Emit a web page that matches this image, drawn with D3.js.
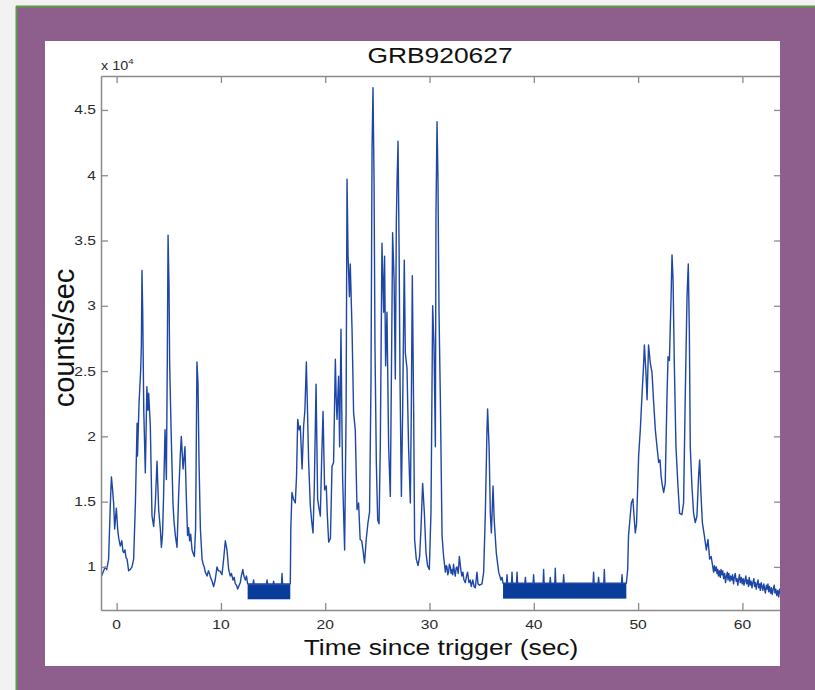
<!DOCTYPE html>
<html>
<head>
<meta charset="utf-8">
<script src="https://cdn.jsdelivr.net/npm/d3@7"></script>
<style>
body { margin: 0; background: #f2f2f2; }
svg { display: block; font-family: "Liberation Sans", Arial, Helvetica, sans-serif; }
</style>
</head>
<body>
<svg id="chart" width="815" height="690"></svg>
<script>
// light curve: [time since trigger (s), counts/sec x 10^4]
var lightCurve = [
    [-1.45,0.93],[-1.3,0.96],[-1.1,1.0],[-0.95,0.98],[-0.77,1.06],[-0.6,1.49],[-0.5,1.69],[-0.4,1.6],
    [-0.29,1.49],[-0.19,1.29],[-0.03,1.45],[0.1,1.29],[0.2,1.22],[0.35,1.16],[0.5,1.2],[0.6,1.12],
    [0.67,1.11],[0.8,1.13],[0.9,1.07],[1.0,1.06],[1.15,0.97],[1.3,0.98],[1.47,1.0],[1.63,1.06],
    [1.8,1.49],[1.96,2.1],[2.0,1.85],[2.15,2.26],[2.3,2.5],[2.37,2.69],[2.43,3.27],[2.5,2.95],
    [2.6,2.2],[2.75,1.72],[2.9,2.38],[3.0,2.2],[3.07,2.33],[3.23,2.08],[3.39,1.39],[3.55,1.31],
    [3.71,1.49],[3.87,1.81],[4.03,1.44],[4.19,1.29],[4.29,1.15],[4.4,1.25],[4.5,1.54],[4.64,2.05],
    [4.77,1.67],[4.85,2.5],[4.93,3.54],[5.02,3.16],[5.08,2.57],[5.22,2.05],[5.4,1.49],[5.5,1.35],
    [5.63,1.24],[5.79,1.15],[5.94,1.54],[6.1,1.85],[6.2,2.0],[6.37,1.75],[6.55,1.92],[6.68,1.54],
    [6.8,1.24],[6.9,1.3],[7.0,1.2],[7.1,1.25],[7.23,1.13],[7.35,1.1],[7.45,1.08],[7.57,1.29],
    [7.7,2.57],[7.8,2.41],[7.9,1.8],[8.03,1.29],[8.19,1.06],[8.3,1.02],[8.4,1.0],[8.5,0.96],
    [8.67,0.93],[8.8,0.97],[8.9,0.95],[9.0,0.92],[9.15,0.89],[9.3,0.85],[9.45,0.9],[9.62,1.0],
    [9.75,0.97],[9.9,0.97],[10.1,0.94],[10.26,1.06],[10.42,1.2],[10.58,1.13],[10.74,0.98],[10.9,0.93],
    [11.0,0.95],[11.16,0.9],[11.27,0.92],[11.38,0.87],[11.5,0.86],[11.6,0.83],[11.75,0.86],[11.86,0.88],
    [11.95,0.93],[12.1,0.98],[12.2,0.93],[12.34,0.9],[12.45,0.93],[12.56,0.87],
    [13.08,0.87],[13.13,0.9],[13.18,0.87],[14.37,0.87],[14.42,0.9],[14.47,0.87],[15.0,0.87],[15.05,0.89],
    [15.1,0.87],[15.81,0.87],[15.86,0.95],[15.91,0.87],[16.65,0.87],
    [16.7,1.29],[16.81,1.57],[16.95,1.52],[17.13,1.49],[17.25,1.7],[17.36,2.13],[17.5,2.05],[17.61,2.08],
    [17.78,1.75],[17.93,2.08],[18.05,2.2],[18.19,2.57],[18.3,2.2],[18.41,1.8],[18.57,1.47],[18.7,1.35],
    [18.83,1.26],[18.95,1.6],[19.12,2.4],[19.27,1.52],[19.4,1.45],[19.53,1.39],[19.65,1.8],[19.79,2.19],
    [19.94,1.59],[20.1,1.62],[20.2,1.4],[20.33,1.19],[20.5,1.22],[20.65,1.77],[20.8,1.8],[20.97,2.59],
    [21.05,2.3],[21.13,2.13],[21.28,2.46],[21.38,1.92],[21.51,2.82],[21.6,2.1],[21.67,1.67],[21.86,1.13],
    [22.0,2.18],[22.09,3.97],[22.19,3.38],[22.32,3.07],[22.4,3.32],[22.57,2.82],[22.72,2.18],[22.88,2.05],
    [23.05,1.44],[23.2,1.49],[23.35,1.21],[23.5,1.2],[23.62,1.13],[23.77,1.03],[23.93,1.21],[24.1,1.34],
    [24.25,1.42],[24.39,2.44],[24.49,4.22],[24.58,4.67],[24.68,3.97],[24.77,2.69],[24.9,1.8],[25.03,1.36],
    [25.16,1.33],[25.28,1.92],[25.44,3.48],[25.6,2.95],[25.69,3.38],[25.79,2.54],[25.92,2.95],[26.08,1.92],
    [26.24,1.54],[26.37,2.69],[26.46,3.56],[26.6,3.2],[26.72,2.44],[26.82,3.66],[26.88,3.92],[26.98,4.26],
    [27.08,3.46],[27.17,2.44],[27.3,1.54],[27.42,2.18],[27.58,3.35],[27.68,2.64],[27.84,2.52],[27.99,1.92],
    [28.16,1.49],[28.25,2.18],[28.35,3.23],[28.48,2.18],[28.57,1.21],[28.73,1.06],[28.9,1.01],[29.05,1.08],
    [29.18,1.29],[29.34,1.64],[29.5,1.42],[29.66,1.11],[29.81,1.01],[29.98,0.98],[30.14,1.42],[30.3,3.0],
    [30.43,2.69],[30.56,1.92],[30.62,3.71],[30.72,4.41],[30.81,3.97],[30.91,2.95],[31.04,2.28],[31.2,1.24],
    [31.35,1.08],[31.52,0.96],[31.6,1.01],[31.67,1.0],[31.75,0.94],[31.83,0.96],[31.9,1.02],[31.99,1.0],
    [32.07,0.95],[32.15,0.98],[32.23,0.94],[32.3,1.02],[32.38,0.97],[32.47,0.93],[32.55,0.99],[32.63,1.0],
    [32.75,0.95],[32.86,1.08],[33.0,0.98],[33.1,0.93],[33.2,0.96],[33.3,0.9],[33.43,0.88],[33.55,0.93],
    [33.65,0.96],[33.78,0.88],[33.9,0.9],[34.0,0.85],[34.15,0.9],[34.27,0.85],[34.39,0.84],[34.55,0.96],
    [34.65,0.87],[34.8,0.86],[35.03,0.87],[35.19,0.96],[35.35,1.41],[35.51,2.05],[35.57,2.21],[35.71,1.92],
    [35.83,1.41],[35.93,1.26],[36.09,1.62],[36.2,1.36],[36.4,1.11],[36.63,0.96],[36.85,0.9],[36.95,0.92],
    [37.05,0.875],[37.38,0.875],[37.43,0.94],[37.48,0.875],[37.86,0.875],[37.91,0.96],[37.96,0.875],
    [38.34,0.875],[38.39,0.96],[38.44,0.875],[39.14,0.875],[39.19,0.92],[39.24,0.875],[39.93,0.875],
    [39.98,0.94],[40.03,0.875],[40.89,0.875],[40.94,0.98],[40.99,0.875],[41.53,0.875],[41.58,0.92],
    [41.63,0.875],[42.01,0.875],[42.06,0.99],[42.11,0.875],[42.81,0.875],[42.86,0.94],[42.91,0.875],
    [45.68,0.875],[45.73,0.96],[45.78,0.875],[46.16,0.875],[46.21,0.92],[46.26,0.875],[46.71,0.875],
    [46.76,0.98],[46.81,0.875],[48.41,0.875],[48.46,0.94],[48.51,0.875],[48.87,0.875],
    [49.0,0.98],[49.08,1.24],[49.2,1.35],[49.35,1.49],[49.5,1.52],[49.6,1.4],[49.73,1.26],[49.85,1.33],
    [50.05,1.85],[50.21,2.05],[50.37,2.31],[50.53,2.56],[50.6,2.7],[50.75,2.49],[50.86,2.28],[51.0,2.7],
    [51.17,2.56],[51.33,2.49],[51.49,2.26],[51.65,2.05],[51.81,1.92],[51.97,1.8],[52.1,1.82],[52.2,1.7],
    [52.29,1.64],[52.45,1.57],[52.6,1.64],[52.77,2.31],[52.87,2.61],[53.0,2.58],[53.16,3.07],[53.25,3.39],
    [53.35,3.2],[53.47,2.56],[53.63,1.92],[53.82,1.62],[53.98,1.41],[54.2,1.4],[54.36,1.49],[54.52,2.31],
    [54.69,3.07],[54.81,3.32],[54.91,2.82],[55.0,1.92],[55.16,1.62],[55.32,1.41],[55.48,1.34],[55.64,1.39],
    [55.8,1.7],[55.9,1.82],[56.02,1.57],[56.16,1.34],[56.35,1.24],[56.54,1.13],[56.7,1.21],[56.86,1.06],
    [57.0,1.08],[57.08,1.04],[57.16,1.0],[57.24,0.96],[57.32,1.01],[57.4,0.97],[57.5,1.0],[57.56,0.95],
    [57.64,0.98],[57.7,0.93],[57.8,0.97],[57.88,0.92],[57.95,0.98],[58.05,0.94],[58.12,0.97],[58.2,0.91],
    [58.3,0.95],[58.38,0.88],[58.45,0.92],[58.55,0.96],[58.62,0.9],[58.7,0.95],[58.8,0.89],[58.88,0.93],
    [58.99,0.9],[59.05,0.94],[59.15,0.87],[59.22,0.92],[59.31,0.95],[59.4,0.89],[59.48,0.91],[59.56,0.86],
    [59.63,0.9],[59.72,0.94],[59.8,0.88],[59.9,0.92],[59.98,0.87],[60.08,0.91],[60.15,0.86],[60.25,0.9],
    [60.33,0.93],[60.4,0.87],[60.5,0.9],[60.58,0.85],[60.66,0.92],[60.75,0.86],[60.84,0.89],[60.92,0.84],
    [61.0,0.88],[61.1,0.91],[61.17,0.85],[61.24,0.88],[61.33,0.83],[61.4,0.87],[61.5,0.9],[61.56,0.84],
    [61.65,0.87],[61.72,0.82],[61.8,0.88],[61.88,0.85],[61.96,0.82],[62.05,0.87],[62.12,0.84],[62.2,0.8],
    [62.3,0.86],[62.38,0.83],[62.45,0.87],[62.52,0.81],[62.6,0.85],[62.7,0.8],[62.78,0.84],[62.86,0.79],
    [62.95,0.83],[63.05,0.86],[63.12,0.8],[63.2,0.83],[63.3,0.78],[63.38,0.82],[63.48,0.77],[63.56,0.83],
    [63.64,0.8],[63.8,0.78]
];

// data-mode gaps drawn as solid bands
var gapStart = [12.56, 37.05];
var gapEnd = [16.65, 48.87];
var gapLow = [0.752, 0.757];
var gapHigh = [0.868, 0.875];

var xTicks = [0, 10, 20, 30, 40, 50, 60];
var yTicks = [1, 1.5, 2, 2.5, 3, 3.5, 4, 4.5];
var xDomain = [-1.5, 63.7];
var yDomain = [0.67, 4.76];

var chartTitle = "GRB920627";
var xLabel = "Time since trigger (sec)";
var yLabel = "counts/sec";

var colorLine = "#1d46a6";
var colorBand = "#0a3c9c";
var colorAxis = "#8a8a8a";
var stretch = 1.2;

var svg = d3.select("#chart");

// frame
svg.append("rect").attr("x", 16).attr("y", 6).attr("width", 800).attr("height", 690)
    .attr("fill", "#8e5e8c");
svg.append("line").attr("x1", 16.5).attr("y1", 6).attr("x2", 16.5).attr("y2", 690)
    .attr("stroke", "#5c9a46").attr("stroke-width", 2);
svg.append("line").attr("x1", 16).attr("y1", 6.5).attr("x2", 815).attr("y2", 6.5)
    .attr("stroke", "#5c9a46").attr("stroke-width", 2);
svg.append("rect").attr("x", 45).attr("y", 41).attr("width", 735).attr("height", 625)
    .attr("fill", "#ffffff");

svg.append("clipPath").attr("id", "panelClip")
    .append("rect").attr("x", 45).attr("y", 41).attr("width", 735).attr("height", 625);

var plot = svg.append("g").attr("clip-path", "url(#panelClip)");

var plotLeft = 101, plotRight = 781, plotTop = 76, plotBottom = 610;
var x = d3.scaleLinear().domain(xDomain).range([plotLeft, plotRight]);
var y = d3.scaleLinear().domain(yDomain).range([plotBottom, plotTop]);

// bands
plot.selectAll("rect.gap").data(gapStart).enter().append("rect")
    .attr("class", "gap")
    .attr("x", function(d, i) { return x(gapStart[i]); })
    .attr("width", function(d, i) { return x(gapEnd[i]) - x(gapStart[i]); })
    .attr("y", function(d, i) { return y(gapHigh[i]); })
    .attr("height", function(d, i) { return y(gapLow[i]) - y(gapHigh[i]); })
    .attr("fill", colorBand);

var line = d3.line().x(function(d) { return x(d[0]); }).y(function(d) { return y(d[1]); });
plot.append("path").datum(lightCurve)
    .attr("d", line)
    .attr("fill", "none")
    .attr("stroke", colorLine)
    .attr("stroke-width", 1.4)
    .attr("stroke-linejoin", "round");

// axes (matlab style box with inward ticks)
function styleAxis(g) {
    g.select(".domain").attr("stroke", colorAxis).attr("stroke-width", 1.5);
    g.selectAll(".tick line").attr("stroke", colorAxis).attr("stroke-width", 1.3);
    g.selectAll(".tick text").remove();
}
plot.append("g").attr("transform", "translate(0," + plotBottom + ")")
    .call(d3.axisBottom(x).tickValues(xTicks).tickSizeInner(-7).tickSizeOuter(0)).call(styleAxis);
plot.append("g").attr("transform", "translate(0," + plotTop + ")")
    .call(d3.axisTop(x).tickValues(xTicks).tickSizeInner(-7).tickSizeOuter(0)).call(styleAxis);
plot.append("g").attr("transform", "translate(" + plotLeft + ",0)")
    .call(d3.axisLeft(y).tickValues(yTicks).tickSizeInner(-7).tickSizeOuter(0)).call(styleAxis);
plot.append("g").attr("transform", "translate(" + plotRight + ",0)")
    .call(d3.axisRight(y).tickValues(yTicks).tickSizeInner(-7).tickSizeOuter(0)).call(styleAxis);

// tick labels (source image is slightly stretched horizontally)
function stretchedText(px, py, txt, size, anchor) {
    return plot.append("text")
        .attr("transform", "translate(" + px + "," + py + ") scale(" + stretch + ",1)")
        .attr("text-anchor", anchor)
        .attr("font-size", size)
        .attr("fill", "#2a2a2a")
        .text(txt);
}
xTicks.forEach(function(t) {
    stretchedText(x(t), 629, t, 13, "middle");
});
yTicks.forEach(function(v) {
    stretchedText(96, y(v) + 4.5, v, 13, "end");
});

// exponent label
var expo = stretchedText(101, 70, "x 10", 12, "start");
expo.append("tspan").attr("font-size", 8).attr("dy", -6).text("4");

stretchedText(440, 63, chartTitle, 22, "middle").attr("fill", "#111");
stretchedText(441, 655, xLabel, 22, "middle").attr("fill", "#111");

plot.append("text")
    .attr("transform", "translate(74,338) rotate(-90)")
    .attr("text-anchor", "middle")
    .attr("font-size", 29)
    .attr("fill", "#111")
    .text(yLabel);
</script>
</body>
</html>
